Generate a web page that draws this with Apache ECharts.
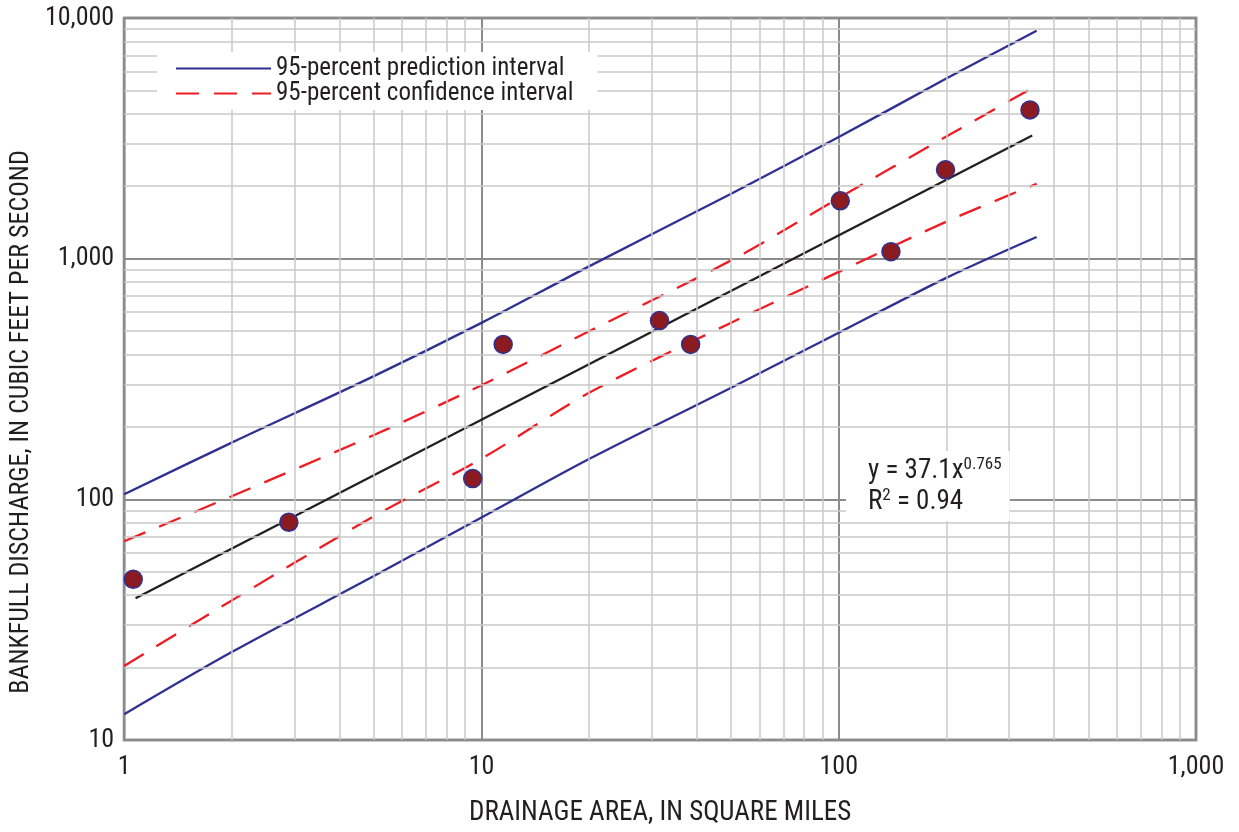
<!DOCTYPE html>
<html><head><meta charset="utf-8">
<script src="https://cdn.jsdelivr.net/npm/echarts@6/dist/echarts.min.js"></script>
<style>html,body{margin:0;padding:0;background:#fff}#c{width:1239px;height:832px}</style>
</head><body><div id="c"></div>
<script>
// Observed sites
const siteArea = [1.06, 2.89, 9.45, 11.5, 31.5, 38.5, 101, 140, 199, 343];
const siteQ = [46.5, 80.3, 122, 440, 553, 440, 1740, 1069, 2340, 4150];
// Regression line end points
const fitArea = [1.076, 348];
const fitQ = [38.8, 3250];
// Interval curves
const bandArea = [1, 2, 5, 10, 20, 50, 100, 200, 358];
const predUpper = [105, 172, 325, 541, 929, 1862, 3200, 5600, 8860];
const predLower = [12.8, 23.2, 48, 84, 147, 291, 492, 832, 1230];
const confUpper = [67, 103, 185, 298, 499, 984, 1786, 3217, 5240];
const confLower = [20.3, 38, 85, 147.5, 277, 542, 881, 1425, 2047];
// Axis ticks
const xTicks = [1, 10, 100, 1000];
const yTicks = [10, 100, 1000, 10000];
const minorMult = [2, 3, 4, 5, 6, 7, 8, 9];

const FONT = "'Liberation Sans Narrow', 'Roboto Condensed', 'Roboto', sans-serif";
const TXT = '#231f20';
const zip = (a, b) => a.map((v, i) => [v, b[i]]);

const minorLines = [];
xTicks.slice(0, -1).forEach(d => minorMult.forEach(m => minorLines.push({ xAxis: d * m })));
yTicks.slice(0, -1).forEach(d => minorMult.forEach(m => minorLines.push({ yAxis: d * m })));

const fmt = v => Number(v).toLocaleString('en-US');

const chart = echarts.init(document.getElementById('c'), null, { renderer: 'canvas' });
chart.setOption({
  animation: false,
  backgroundColor: '#fff',
  textStyle: { fontFamily: FONT },
  grid: { left: 123, right: 43, top: 18, bottom: 91, show: true, borderColor: '#939598', borderWidth: 3, backgroundColor: 'transparent' },
  xAxis: {
    type: 'log', logBase: 10, min: 1, max: 1000,
    name: 'DRAINAGE AREA, IN SQUARE MILES', nameLocation: 'middle', nameGap: 60,
    nameTextStyle: { fontSize: 27, color: TXT, fontFamily: FONT },
    axisLine: { show: false }, axisTick: { show: false },
    axisLabel: { fontSize: 26, color: TXT, margin: 14, formatter: fmt, fontFamily: FONT },
    splitLine: { show: true, lineStyle: { color: '#8c8c8c', width: 2 } }
  },
  yAxis: {
    type: 'log', logBase: 10, min: 10, max: 10000,
    name: 'BANKFULL DISCHARGE, IN CUBIC FEET PER SECOND', nameLocation: 'middle', nameGap: 90,
    nameTextStyle: { fontSize: 26, color: TXT, fontFamily: FONT, padding: [0, 86, 0, 0] },
    axisLine: { show: false }, axisTick: { show: false },
    axisLabel: { fontSize: 26, color: TXT, margin: 10, formatter: fmt, fontFamily: FONT },
    splitLine: { show: true, lineStyle: { color: '#8c8c8c', width: 2 } }
  },
  legend: {
    left: 157, top: 52, orient: 'vertical', z: 6,
    backgroundColor: '#fff', padding: [4, 24, 4, 18], itemGap: 0,
    itemWidth: 95, itemHeight: 14,
    itemStyle: { opacity: 0 },
    textStyle: { fontSize: 25, color: TXT, lineHeight: 24, fontFamily: FONT },
    data: ['95-percent prediction interval', '95-percent confidence interval']
  },
  title: {
    left: 846, top: 451, z: 6,
    backgroundColor: '#fff', padding: [5, 8, 5, 22],
    text: '{n|y = 37.1x}{s|0.765}\n{n|R}{s|2}{n| = 0.94}',
    textStyle: {
      fontWeight: 'normal',
      rich: {
        n: { fontSize: 27, color: TXT, fontFamily: FONT, fontWeight: 'normal', lineHeight: 31 },
        s: { fontSize: 17, color: TXT, fontFamily: FONT, fontWeight: 'normal', verticalAlign: 'top', lineHeight: 31 }
      }
    }
  },
  series: [
    {
      name: 'grid-minor', type: 'line', data: [], silent: true, z: 1,
      markLine: {
        silent: true, symbol: 'none', label: { show: false },
        lineStyle: { color: '#c8c8c8', width: 1.5, type: 'solid' },
        emphasis: { disabled: true },
        data: minorLines
      }
    },
    { name: '95-percent prediction interval', type: 'line', data: zip(bandArea, predUpper), symbol: 'none', smooth: 0.3, z: 3,
      lineStyle: { color: '#2e3192', width: 2.3 }, itemStyle: { color: '#2e3192' } },
    { name: '95-percent prediction interval', type: 'line', data: zip(bandArea, predLower), symbol: 'none', smooth: 0.3, z: 3,
      lineStyle: { color: '#2e3192', width: 2.3 }, itemStyle: { color: '#2e3192' } },
    { name: '95-percent confidence interval', type: 'line', data: zip(bandArea, confUpper), symbol: 'none', smooth: 0.3, z: 3,
      lineStyle: { color: '#ee1c24', width: 2.3, type: [23, 15] }, itemStyle: { color: '#ee1c24' } },
    { name: '95-percent confidence interval', type: 'line', data: zip(bandArea, confLower), symbol: 'none', smooth: 0.3, z: 3,
      lineStyle: { color: '#ee1c24', width: 2.3, type: [23, 15] }, itemStyle: { color: '#ee1c24' } },
    { name: 'fit', type: 'line', data: zip(fitArea, fitQ), symbol: 'none', z: 3,
      lineStyle: { color: '#231f20', width: 2.3 } },
    { name: 'sites', type: 'scatter', data: zip(siteArea, siteQ), symbol: 'circle', symbolSize: 18, z: 5,
      itemStyle: { color: '#8c1a21', borderColor: '#2e3192', borderWidth: 1.5, opacity: 1 } }
  ]
});
</script>
</body></html>
